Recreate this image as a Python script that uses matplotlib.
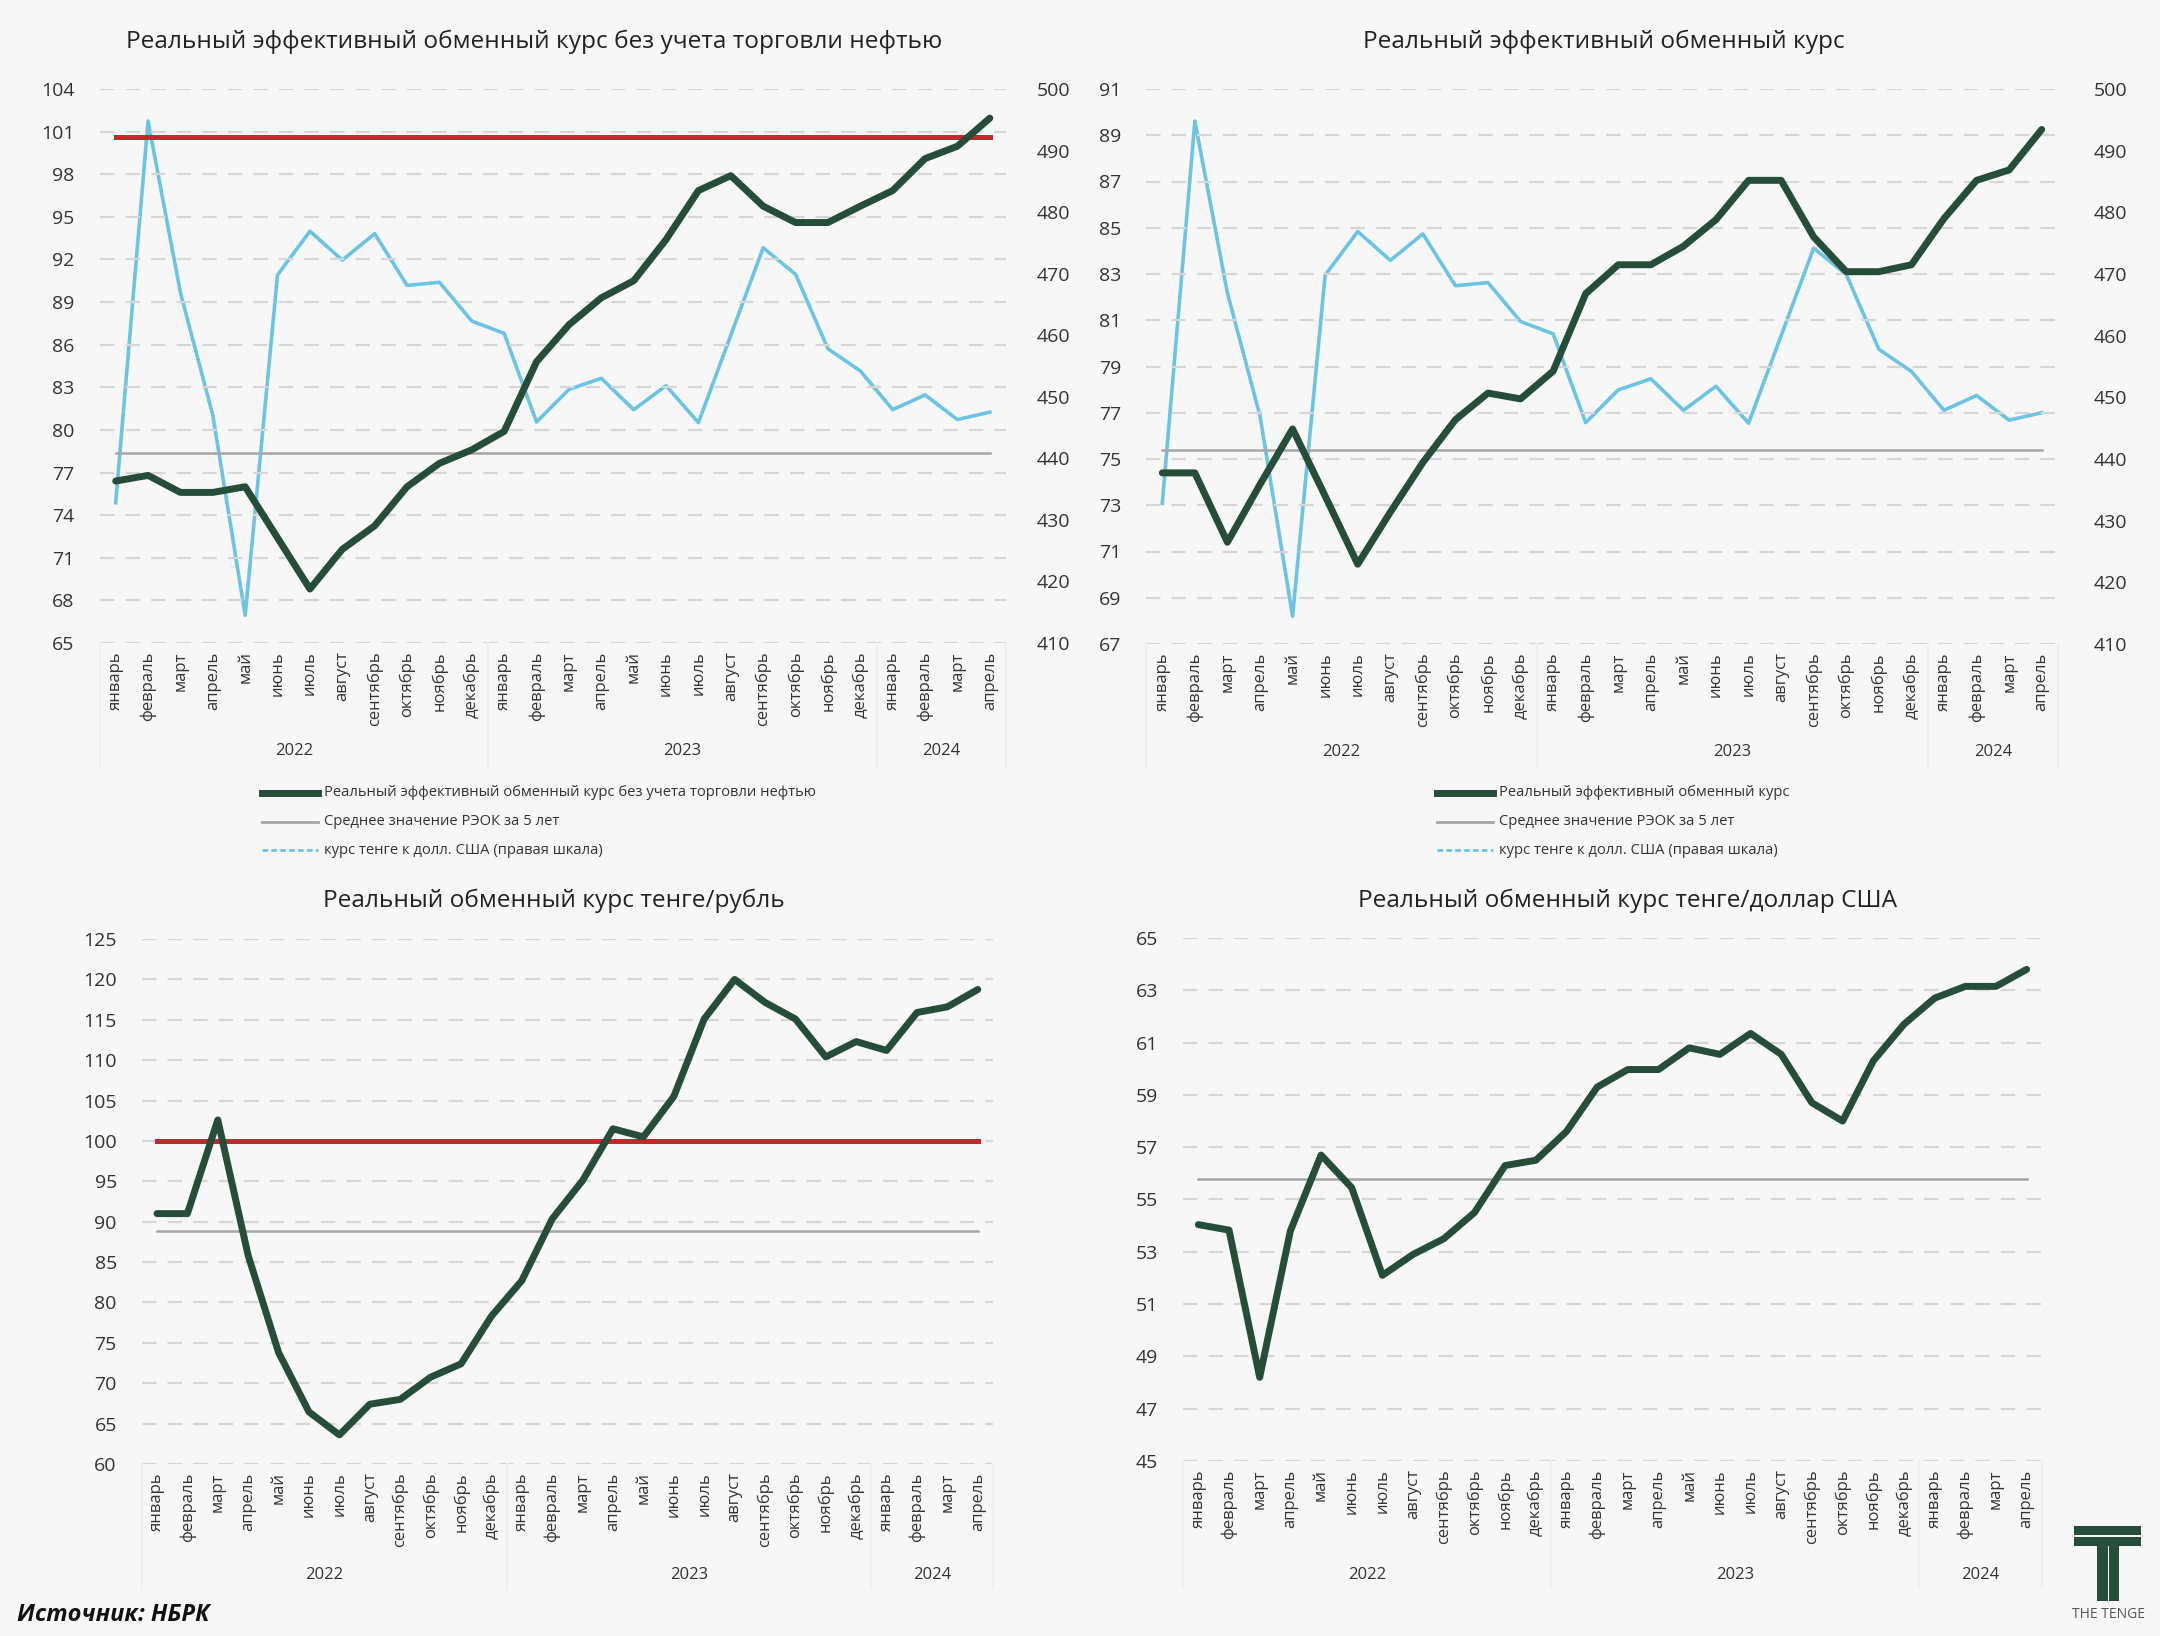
import matplotlib
matplotlib.use("Agg")
import matplotlib.pyplot as plt
from matplotlib.lines import Line2D
from matplotlib.patches import Rectangle
import numpy as np

plt.rcParams['font.family'] = ['Open Sans', 'DejaVu Sans']

# --- data ---
months_ru = ['январь', 'февраль', 'март', 'апрель', 'май', 'июнь', 'июль',
             'август', 'сентябрь', 'октябрь', 'ноябрь', 'декабрь']
month_labels = months_ru + months_ru + months_ru[:4]
years = ['2022', '2023', '2024']
year_counts = [12, 12, 4]

reer_nonoil = [76.4, 76.8, 75.6, 75.6, 76.0, 72.4, 68.8, 71.6, 73.25, 76.0, 77.65, 78.6,
               79.9, 84.8, 87.4, 89.3, 90.5, 93.4, 96.85, 97.9, 95.75, 94.6, 94.6, 95.75,
               96.85, 99.1, 99.97, 101.95]
reer = [74.4, 74.4, 71.4, 73.9, 76.3, 73.4, 70.45, 72.7, 74.85, 76.7, 77.85, 77.6,
        78.8, 82.15, 83.4, 83.4, 84.2, 85.35, 87.05, 87.05, 84.6, 83.1, 83.1, 83.4,
        85.4, 87.05, 87.5, 89.25]
rer_rub = [91.0, 91.0, 102.6, 85.8, 73.8, 66.45, 63.6, 67.4, 68.0, 70.75, 72.4, 78.3,
           82.7, 90.35, 95.1, 101.5, 100.5, 105.5, 115.1, 120.0, 117.15, 115.1, 110.4, 112.3,
           111.2, 115.9, 116.6, 118.75]
rer_usd = [54.04, 53.83, 48.2, 53.8, 56.7, 55.45, 52.1, 52.9, 53.5, 54.5, 56.3, 56.5,
           57.6, 59.3, 59.97, 59.97, 60.8, 60.55, 61.35, 60.55, 58.7, 58.0, 60.3, 61.7,
           62.7, 63.15, 63.15, 63.8]
usd_kzt = [432.8, 494.8, 466.9, 447.0, 414.5, 469.8, 476.9, 472.2, 476.5, 468.1, 468.6, 462.3,
           460.3, 445.9, 451.2, 453.0, 447.9, 451.8, 445.8, 460.0, 474.2, 469.9, 457.8, 454.2,
           447.9, 450.3, 446.3, 447.5]

avg5_nonoil = 78.4
avg5_reer = 75.4
avg5_rub = 88.9
avg5_usd = 55.8
red_nonoil = 100.6
red_rub = 100.0

GREEN = '#264d39'
BLUE = '#6cc4e4'
RED = '#c9262c'
GRAY = '#a6a6a6'
GRID = '#d6d6d6'
BG = '#f7f7f7'
TXT = '#333333'

W, H = 2160, 1636
fig = plt.figure(figsize=(W / 200, H / 200), dpi=200)
fig.patch.set_facecolor(BG)

x = np.arange(len(month_labels))


def px_box(l, t, r, b):
    return [l / W, 1 - b / H, (r - l) / W, (b - t) / H]


def base_axes(box, ylim, yticks, cat_depth, year_y):
    ax = fig.add_axes(px_box(*box))
    ax.set_facecolor(BG)
    ax.set_xlim(-0.5, len(x) - 0.5)
    ax.set_ylim(*ylim)
    ax.set_yticks(yticks)
    for s in ax.spines.values():
        s.set_visible(False)
    ax.yaxis.grid(True, color=GRID, lw=0.8, linestyle=(0, (6.5, 5)))
    ax.set_axisbelow(True)
    ax.tick_params(axis='y', length=0, pad=9, labelsize=7, labelcolor=TXT)
    ax.set_xticks(x)
    ax.set_xticklabels(month_labels, rotation=90, fontsize=6, color=TXT)
    ax.tick_params(axis='x', length=0, pad=3)
    # multi-level category separators + years
    start = 0
    for yr, n in zip(years, year_counts):
        ax.text(start + (n - 1) / 2, year_y, yr, transform=ax.get_xaxis_transform(),
                ha='center', va='center', fontsize=6, color=TXT)
        start += n
    bounds = np.concatenate([[0], np.cumsum(year_counts)]) - 0.5
    for b in bounds:
        ax.plot([b, b], [0, cat_depth], transform=ax.get_xaxis_transform(),
                color='#efefef', lw=0.8, clip_on=False)
    return ax


def legend_block(x0, y0, labels):
    styles = [dict(color=GREEN, lw=2.5), dict(color=GRAY, lw=1.0),
              dict(color=BLUE, lw=1.0, linestyle=(0, (2, 1.2)))]
    for i, (lab, st) in enumerate(zip(labels, styles)):
        yy = y0 + i * 28.5
        fig.add_artist(Line2D([x0 / W, (x0 + 56) / W], [1 - yy / H, 1 - yy / H], **st))
        fig.text((x0 + 62) / W, 1 - yy / H, lab, fontsize=5.3, color=TXT, va='center', ha='left')


# --- chart 1 ---
ax1 = base_axes((99.5, 89, 1006, 643), (65, 104), np.arange(65, 105, 3), -0.224, -0.195)
ax1r = ax1.twinx()
ax1r.set_ylim(410, 500)
ax1r.set_yticks(np.arange(410, 501, 10))
for s in ax1r.spines.values():
    s.set_visible(False)
ax1r.tick_params(axis='y', length=0, pad=11, labelsize=7, labelcolor=TXT)
ax1r.plot(x, usd_kzt, color=BLUE, lw=1.3, zorder=2)
ax1.plot(x, [red_nonoil] * len(x), color=RED, lw=1.8, zorder=3)
ax1.plot(x, [avg5_nonoil] * len(x), color=GRAY, lw=0.9, zorder=3)
ax1.set_zorder(ax1r.get_zorder() + 1)
ax1.patch.set_visible(False)
ax1.plot(x, reer_nonoil, color=GREEN, lw=2.5, zorder=4, solid_capstyle='round')
fig.text(534 / W, 1 - 42 / H, 'Реальный эффективный обменный курс без учета торговли нефтью',
         ha='center', va='center', fontsize=8.8, color='#222222')
legend_block(262, 793, ['Реальный эффективный обменный курс без учета торговли нефтью',
                        'Среднее значение РЭОК за 5 лет',
                        'курс тенге к долл. США (правая шкала)'])

# --- chart 2 ---
ax2 = base_axes((1146, 89, 2058, 644), (67, 91), np.arange(67, 92, 2), -0.222, -0.194)
ax2r = ax2.twinx()
ax2r.set_ylim(410, 500)
ax2r.set_yticks(np.arange(410, 501, 10))
for s in ax2r.spines.values():
    s.set_visible(False)
ax2r.tick_params(axis='y', length=0, pad=13, labelsize=7, labelcolor=TXT)
ax2r.plot(x, usd_kzt, color=BLUE, lw=1.3, zorder=2)
ax2.plot(x, [avg5_reer] * len(x), color=GRAY, lw=0.9, zorder=3)
ax2.set_zorder(ax2r.get_zorder() + 1)
ax2.patch.set_visible(False)
ax2.plot(x, reer, color=GREEN, lw=2.5, zorder=4, solid_capstyle='round')
fig.text(1604 / W, 1 - 42 / H, 'Реальный эффективный обменный курс',
         ha='center', va='center', fontsize=8.8, color='#222222')
legend_block(1437, 793, ['Реальный эффективный обменный курс',
                         'Среднее значение РЭОК за 5 лет',
                         'курс тенге к долл. США (правая шкала)'])

# --- chart 3 ---
ax3 = base_axes((141.8, 939, 993, 1464), (60, 125), np.arange(60, 126, 5), -0.238, -0.211)
ax3.plot(x, [red_rub] * len(x), color=RED, lw=1.8, zorder=3)
ax3.plot(x, [avg5_rub] * len(x), color=GRAY, lw=0.9, zorder=3)
ax3.plot(x, rer_rub, color=GREEN, lw=2.5, zorder=4, solid_capstyle='round')
fig.text(554 / W, 1 - 901 / H, 'Реальный обменный курс тенге/рубль',
         ha='center', va='center', fontsize=8.8, color='#222222')

# --- chart 4 ---
ax4 = base_axes((1183, 938, 2042, 1461), (45, 65), np.arange(45, 66, 2), -0.24, -0.218)
ax4.plot(x, [avg5_usd] * len(x), color=GRAY, lw=0.9, zorder=3)
ax4.plot(x, rer_usd, color=GREEN, lw=2.5, zorder=4, solid_capstyle='round')
fig.text(1628 / W, 1 - 901 / H, 'Реальный обменный курс тенге/доллар США',
         ha='center', va='center', fontsize=8.8, color='#222222')

# source
fig.text(17 / W, 1 - 1615 / H, 'Источник: НБРК', ha='left', va='center',
         fontsize=8.5, fontweight='bold', fontstyle='italic', color='#111111')

# logo
for (l, t, r, b) in [(2074, 1526, 2141, 1535), (2074, 1537, 2141, 1546),
                     (2097, 1537, 2108, 1601), (2109, 1537, 2119, 1601)]:
    fig.add_artist(Rectangle((l / W, 1 - b / H), (r - l) / W, (b - t) / H,
                             facecolor=GREEN, edgecolor='none', transform=fig.transFigure))
fig.add_artist(Rectangle((2074 / W, 1 - 1537 / H), 67 / W, 1.2 / H,
                         facecolor=BG, edgecolor='none', transform=fig.transFigure))
fig.text(2108 / W, 1 - 1615 / H, 'THE TENGE', ha='center', va='center',
         fontsize=5, color='#555555')

fig.savefig('out.png', dpi=200, facecolor=BG)
